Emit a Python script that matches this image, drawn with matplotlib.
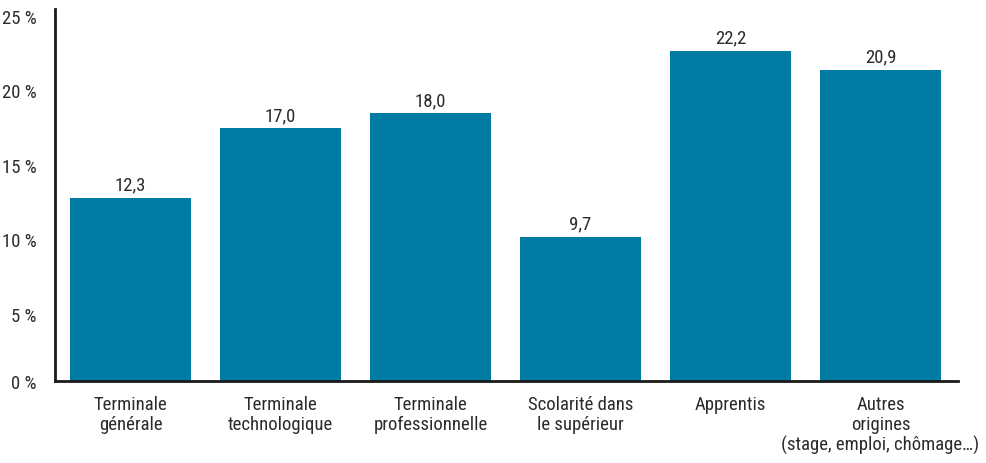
import matplotlib
matplotlib.use("Agg")
import matplotlib.pyplot as plt
from matplotlib import font_manager as fm
import matplotlib.transforms as mtransforms

categories = ["Terminale\ngénérale", "Terminale\ntechnologique", "Terminale\nprofessionnelle",
              "Scolarité dans\nle supérieur", "Apprentis",
              "Autres\norigines\n(stage, emploi, chômage…)"]
values = [12.3, 17.0, 18.0, 9.7, 22.2, 20.9]
value_labels = ["12,3", "17,0", "18,0", "9,7", "22,2", "20,9"]
yticks = [0, 5, 10, 15, 20, 25]
ytick_labels = ["0 %", "5 %", "10 %", "15 %", "20 %", "25 %"]

names = {f.name for f in fm.fontManager.ttflist}
family = "DejaVu Sans"
for cand in ["Roboto Condensed", "Liberation Sans Narrow", "Archivo Narrow",
             "Asap Condensed", "Barlow Semi Condensed", "Barlow Condensed"]:
    if cand in names:
        family = cand
        break
plt.rcParams["font.family"] = [family, "DejaVu Sans"]

txt = "#2b2b2b"
bar_color = "#007ba4"
fs = 13.5

fig = plt.figure(figsize=(9.87, 4.64), dpi=100)
W, H = 987, 464
left, right, bottom, top = 55, 958, 382, 10
ax = fig.add_axes([left / W, 1 - bottom / H, (right - left) / W, (bottom - top) / H])

x = list(range(len(values)))
ax.bar(x, values, width=0.807, color=bar_color, zorder=2)
ax.set_xlim(-0.503, 5.517)
ax.set_ylim(0, (bottom - top) / 14.9)

for xi, v, lab in zip(x, values, value_labels):
    ax.annotate(lab, (xi, v), xytext=(0, 3), textcoords="offset points",
                ha="center", va="bottom", fontsize=fs, color=txt)

ax.set_yticks(yticks)
ax.set_yticklabels(ytick_labels, fontsize=fs, color=txt)
ax.tick_params(axis="y", length=0, pad=13)
for t, lab in zip(ax.get_yticklabels(), yticks):
    if lab != 0:
        t.set_transform(t.get_transform() + mtransforms.ScaledTranslation(0, -7 / 100, fig.dpi_scale_trans))
ax.set_xticks(x)
ax.set_xticklabels(categories, fontsize=fs, color=txt, linespacing=1.15)
ax.tick_params(axis="x", length=0, pad=10)

for s in ["top", "right"]:
    ax.spines[s].set_visible(False)
ax.spines["left"].set_linewidth(2)
ax.spines["bottom"].set_linewidth(2)
ax.spines["left"].set_color("#1a1a1a")
ax.spines["bottom"].set_color("#1a1a1a")

fig.savefig("out.png", dpi=100)
